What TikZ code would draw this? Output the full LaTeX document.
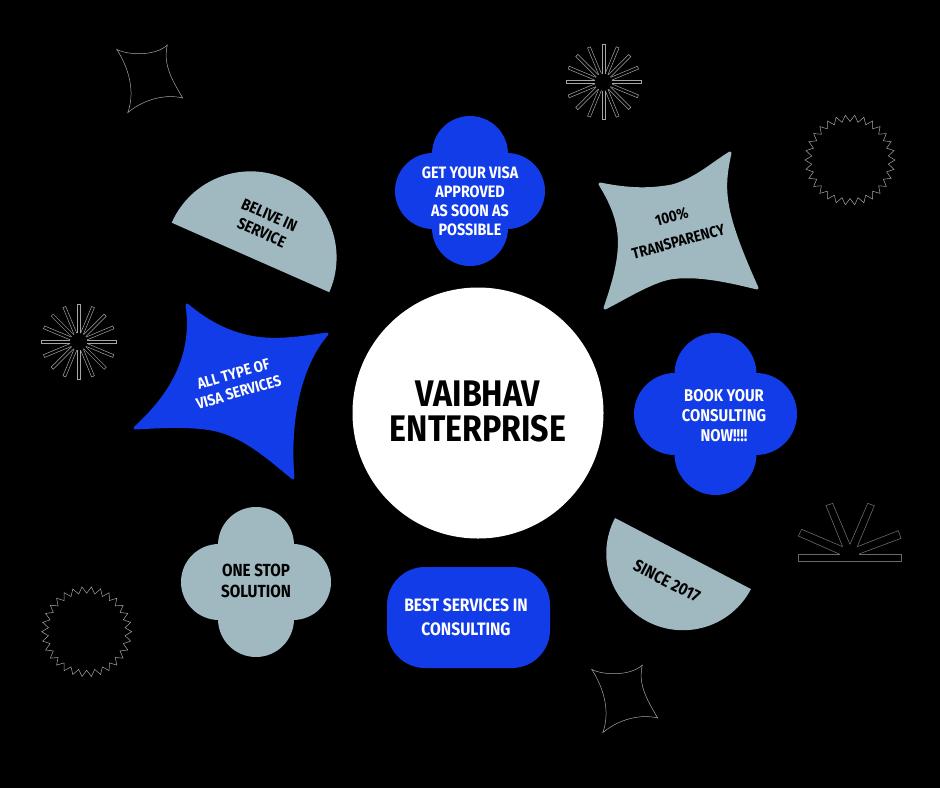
\documentclass[tikz,border=0pt]{standalone}
\usepackage{fontspec}
\setmainfont{Fira Sans}[FakeStretch=0.87,UprightFont=* Bold,BoldFont=* Bold]
\definecolor{vblue}{RGB}{18,60,232}
\definecolor{vgrey}{RGB}{160,184,192}
\definecolor{vline}{RGB}{165,165,165}
\definecolor{vdim}{RGB}{105,105,105}
\tikzset{
  lbl/.style={align=center,inner sep=0pt,font=\fontsize{16}{19}\selectfont},
  lblw/.style={lbl,text=white},
  lblk/.style={lbl,text=black},
  thin line/.style={draw=vline,line width=0.5pt,line join=miter},
  dim line/.style={draw=vdim,line width=0.6pt,line join=miter},
  blob/.style={line width=3pt,line join=round}
}
\begin{document}
\begin{tikzpicture}[x=1pt,y=-1pt]
\fill[black] (0,0) rectangle (940,788);
\useasboundingbox (0,0) rectangle (940,788);

% centre
\fill[white] (478,413) circle[radius=125.5pt];
\node[inner sep=0pt,align=center,text=black,font=\fontsize{37}{35}\selectfont] (centre) at (478,411) {VAIBHAV\\ENTERPRISE};

% half discs
\fill[vgrey] (171.7,222.7) arc[start angle=156.2,end angle=-23.8,radius=86.1pt] -- cycle;
\node[lblk,rotate=-24] (belive) at (265.5,224) {BELIVE IN\\SERVICE};
\fill[vgrey] (615,518) arc[start angle=152.4,end angle=332.4,radius=76.7pt] -- cycle;
\node[lblk,rotate=-27,font=\fontsize{17}{19}\selectfont] (since) at (667,581) {SINCE 2017};

% clovers
\fill[vblue] (470,191) circle[radius=40pt]
  (470,154) circle[radius=38pt] (470,228) circle[radius=38pt]
  (433,191) circle[radius=38pt] (507,191) circle[radius=38pt];
\node[lblw,font=\fontsize{16.5}{19}\selectfont] (visa) at (470,201) {GET YOUR VISA\\APPROVED\\AS SOON AS\\POSSIBLE};
\fill[vblue] (715.5,414) circle[radius=44pt]
  (715.5,374) circle[radius=41pt] (715.5,454) circle[radius=41pt]
  (675,414) circle[radius=41pt] (756,414) circle[radius=41pt];
\node[lblw,font=\fontsize{17}{20}\selectfont] (book) at (724,416) {BOOK YOUR\\CONSULTING\\NOW!!!!};
\fill[vgrey] (256,582) circle[radius=40pt]
  (256,545) circle[radius=38pt] (256,619) circle[radius=38pt]
  (219,582) circle[radius=38pt] (293,582) circle[radius=38pt];
\node[lblk,font=\fontsize{17.5}{21}\selectfont] (stop) at (256,581) {ONE STOP\\SOLUTION};

% rounded box
\fill[vblue,rounded corners=38pt] (387,567) rectangle (550,668);
\node[lblw,font=\fontsize{18}{24}\selectfont] (best) at (466,617) {BEST SERVICES IN\\CONSULTING};

% grey star
\filldraw[vgrey,blob] (600,184) .. controls (630,190) and (650,190) .. (672,186)
  .. controls (695,180) and (712,164) .. (730,153)
  .. controls (722,190) and (722,210) .. (757,288)
  .. controls (725,280) and (695,274) .. (670,278)
  .. controls (650,282) and (625,298) .. (605,308)
  .. controls (625,250) and (625,225) .. cycle;
\node[lblk,rotate=15,font=\fontsize{15.5}{26}\selectfont] (transp) at (675,229) {100\%\\TRANSPARENCY};

% blue star
\filldraw[vblue,blob] (187,305) .. controls (205,320) and (225,332) .. (250,337)
  .. controls (275,342) and (300,338) .. (327,334)
  .. controls (300,365) and (288,420) .. (293,478)
  .. controls (265,455) and (240,432) .. (205,428)
  .. controls (180,425) and (155,427) .. (135,428)
  .. controls (160,405) and (196,365) .. cycle;
\node[lblw,rotate=16,font=\fontsize{15.5}{19}\selectfont] (alltype) at (236,383) {ALL TYPE OF\\VISA SERVICES};

% outline stars
\foreach \dx/\dy in {0/0,475/620}{
\begin{scope}[shift={(\dx,\dy)}]
\draw[thin line] (116.7,49.3) .. controls (126.7,55) and (155,56.7) .. (167.3,45)
  .. controls (163.3,63.3) and (170,76.7) .. (182.7,98)
  .. controls (166.7,94) and (145,98.3) .. (127.7,112.7)
  .. controls (135,93.3) and (130,70) .. cycle;
\end{scope}}

% sunbursts
\foreach \cx/\cy in {603.3/82,78.7/341.7}{
\begin{scope}[shift={(\cx,\cy)}]
\foreach \a in {0,22.5,...,337.5}{
  \draw[thin line,rotate=\a] (8.5,-1.5) -- (37.5,-1.5) -- (37.5,1.5) -- (8.5,1.5);
}
\end{scope}}

% jagged rings
\foreach \cx/\cy in {850/160,86.7/631.7}{
\begin{scope}[shift={(\cx,\cy)}]
\draw[thin line] (0:45pt)
  \foreach \i in {1,...,30}{ -- ({\i*12-6}:38.5pt) -- ({\i*12}:45pt) } -- cycle;
\end{scope}}

% fan
\begin{scope}[shift={(780,490)},scale=0.3333]
\draw[dim line] (180,192) -- (55,192) -- (55,215) -- (363,215) -- (363,192) -- (237,192);
\draw[dim line] (180,193) -- (55,138) -- (65,118) -- (188,170);
\draw[dim line] (188,170) -- (138,47) -- (158,40) -- (210,163);
\draw[dim line] (210,163) -- (263,40) -- (283,47) -- (232,170);
\draw[dim line] (232,170) -- (355,122) -- (363,145) -- (237,192);
\end{scope}
\end{tikzpicture}
\end{document}
